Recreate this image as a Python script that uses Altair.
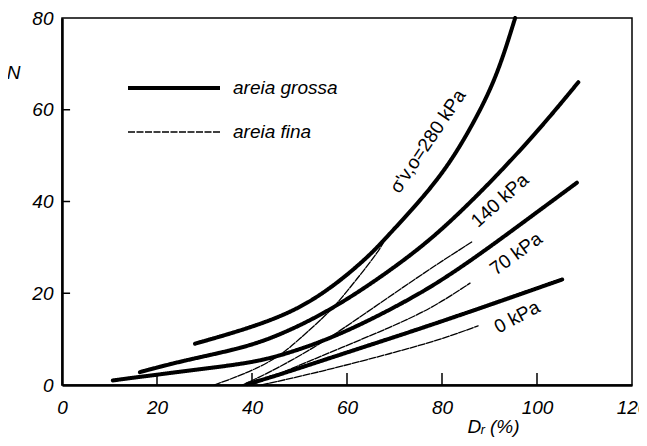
import altair as alt
import pandas as pd

# ---- data ----
# areia grossa (thick solid)
dr_g280 = [28, 37.5, 45, 51.5, 58.5, 64.8, 67.6, 76, 81.7, 86.6, 91.5, 95.4]
n_g280 = [9, 11.8, 14.5, 17.6, 22.6, 28.3, 31.4, 40.8, 48.4, 57, 67, 80]
dr_g140 = [16.4, 25, 37.5, 45, 55, 65.5, 75.4, 82.4, 90.8, 100.6, 108.7]
n_g140 = [2.8, 5.2, 7.9, 10.5, 15.4, 22.3, 29.8, 36.2, 44.8, 55.8, 66]
dr_g70 = [10.7, 24.8, 37.5, 45.2, 58.5, 72.6, 79.6, 88, 99.9, 108.4]
n_g70 = [1, 2.9, 4.5, 6.0, 10.8, 18.3, 22.6, 28.5, 37.6, 44.1]
dr_g0 = [39, 44.5, 58.5, 72.6, 88, 105.3]
n_g0 = [0.2, 1.8, 6.6, 11.3, 16.7, 23]
# areia fina (thin dashed)
dr_f280 = [32, 38, 45.2, 50, 55, 57.8, 62, 66.6, 68.6]
n_f280 = [0, 2.2, 5.7, 10, 14.7, 17.6, 23, 29, 32.7]
dr_f140 = [38, 45, 53.6, 58.5, 69, 78, 86.3]
n_f140 = [0, 3.4, 8.5, 11.8, 19.3, 25.7, 31.2]
dr_f70 = [40, 50, 58.5, 69, 78, 85.9]
n_f70 = [0, 4.3, 8.0, 12.5, 16.8, 22.2]
dr_f0 = [42, 51.5, 58.5, 69, 80, 87.6]
n_f0 = [0, 2.2, 4.0, 6.8, 10, 12.9]

tipos = ["areia grossa", "areia fina"]
x_ticks = [0, 20, 40, 60, 80, 100, 120]
y_ticks = [0, 20, 40, 60, 80]
x_inner_ticks = [20, 40, 60, 80, 100]
y_inner_ticks = [20, 40, 60]

label_text = ["σ'v,o=280 kPa", "140 kPa", "70 kPa", "0 kPa"]
label_dr = [77, 92.2, 95.6, 95.8]
label_n = [53.1, 40.2, 28.6, 14.8]
label_angle = [304, 318, 324, 332]

series = [
    ("g280", tipos[0], dr_g280, n_g280), ("g140", tipos[0], dr_g140, n_g140),
    ("g70", tipos[0], dr_g70, n_g70), ("g0", tipos[0], dr_g0, n_g0),
    ("f280", tipos[1], dr_f280, n_f280), ("f140", tipos[1], dr_f140, n_f140),
    ("f70", tipos[1], dr_f70, n_f70), ("f0", tipos[1], dr_f0, n_f0),
]
rows = []
for name, tipo, xs_, ys_ in series:
    for i, (a, b) in enumerate(zip(xs_, ys_)):
        rows.append({"curve": name, "tipo": tipo, "Dr": a, "N": b, "i": i})
df = pd.DataFrame(rows)

FONT = "Liberation Sans"
FS = 19
xs = alt.Scale(domain=[0, 120], nice=False, zero=False)
ys = alt.Scale(domain=[0, 80], nice=False, zero=False)

legend = alt.Legend(title=None, orient="none", legendX=64, legendY=48,
                    symbolType="stroke", symbolSize=8464,
                    clipHeight=44, rowPadding=0, padding=0,
                    labelFont=FONT, labelFontSize=FS,
                    labelFontStyle="italic", labelColor="black",
                    labelOffset=11, symbolStrokeColor="black")

lines = alt.Chart(df).mark_line(interpolate="basis", color="black", strokeCap="round").encode(
    x=alt.X("Dr:Q", scale=xs, axis=alt.Axis(
        values=x_ticks, title="Dᵣ (%)", titleX=431, titleY=47, titleAlign="center",
        titleBaseline="alphabetic",
        titleFont=FONT, titleFontSize=FS, titleFontStyle="italic", titleFontWeight="normal",
        labelFont=FONT, labelFontSize=FS, labelFontStyle="italic", labelPadding=13,
        ticks=False, tickSize=0, grid=False, domainColor="black", domainWidth=2.5,
        labelColor="black", titleColor="black", labelFlush=False)),
    y=alt.Y("N:Q", scale=ys, axis=alt.Axis(
        values=y_ticks, title="N", titleAngle=0, titleX=-49, titleY=54, titleAlign="center",
        titleBaseline="middle",
        titleFont=FONT, titleFontSize=FS, titleFontStyle="italic", titleFontWeight="normal",
        labelFont=FONT, labelFontSize=FS, labelFontStyle="italic", labelPadding=9,
        ticks=False, tickSize=0, grid=False, domainColor="black", domainWidth=2.5,
        labelColor="black", titleColor="black", labelFlush=False)),
    detail="curve:N",
    order="i:Q",
    strokeDash=alt.StrokeDash("tipo:N", scale=alt.Scale(domain=tipos, range=[[1, 0], [7, 1.5]]),
                              legend=legend),
    strokeWidth=alt.StrokeWidth("tipo:N", scale=alt.Scale(domain=tipos, range=[4, 1.3]),
                                legend=legend),
)

xt = alt.Chart(pd.DataFrame({"v": x_inner_ticks})).mark_rule(color="black", strokeWidth=1.5).encode(
    x=alt.X("v:Q", scale=xs), y=alt.datum(0, scale=ys), y2=alt.datum(2.6))
yt = alt.Chart(pd.DataFrame({"v": y_inner_ticks})).mark_rule(color="black", strokeWidth=1.5).encode(
    y=alt.Y("v:Q", scale=ys), x=alt.datum(0, scale=xs), x2=alt.datum(1.7))

lab = alt.Chart(pd.DataFrame({"t": label_text, "x": label_dr, "y": label_n, "a": label_angle})).mark_text(
    font=FONT, fontSize=FS, color="black", align="center", baseline="middle").encode(
    x=alt.X("x:Q", scale=xs), y=alt.Y("y:Q", scale=ys), text="t:N", angle=alt.Angle("a:Q", scale=None))

chart = alt.layer(lines, xt, yt, lab).properties(
    width=570, height=367,
    autosize=alt.AutoSizeParams(type="none"),
    padding={"left": 54, "top": 10, "right": 7, "bottom": 53},
).configure_view(stroke="black", strokeWidth=1.5)

chart.save("out.html", embed_options={"renderer": "svg", "actions": False})
